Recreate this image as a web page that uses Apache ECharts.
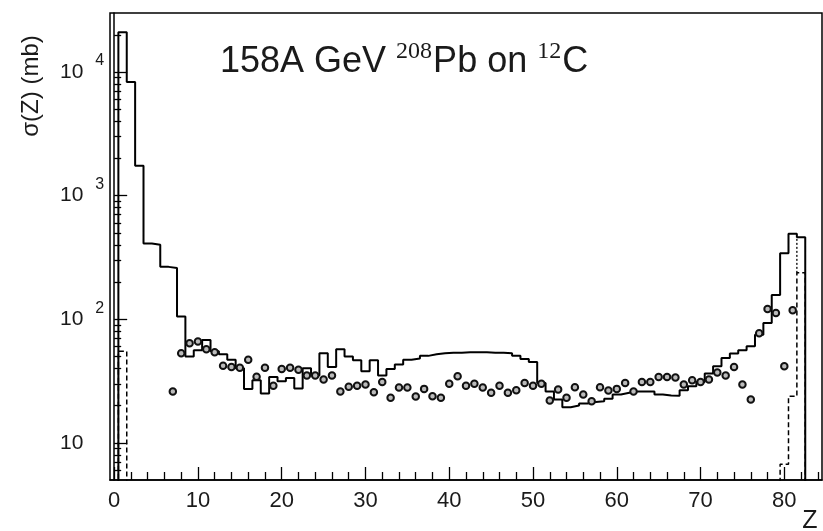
<!DOCTYPE html>
<html>
<head>
<meta charset="utf-8">
<script src="https://cdn.jsdelivr.net/npm/echarts@6/dist/echarts.min.js"></script>
<style>
html,body{margin:0;padding:0;background:#fff;}
#chart{width:823px;height:531px;}
</style>
</head>
<body>
<div id="chart"></div>
<script>
// ---- Data ----
// Solid histogram: sigma(Z) in mb, index = Z (null = empty bin)
const solidValues = [
  null, 21000, 8300, 1740, 410, 400, 265, 260, 105, 50,
  56, 68, 55, 52, 47, 40, 27.3, 32, 25, 34,
  31.5, 33.5, 27.5, 40, 35, 53, 41, 57, 50, 46.5,
  38, 46.5, 35, 39.6, 43, 47, 48, 50.5, 52, 53,
  53.5, 53.5, 54, 54, 54, 53.5, 53.5, 53, 50.7, 47.7,
  45, 30.5, 26, 22.4, 19.4, 20, 20.8, 21.4, 21.7, 22.7,
  24.6, 25.4, 26, 26, 26, 24.6, 24.1, 24, 26.6, 28.7,
  31, 36.3, 41.6, 48.6, 52.7, 56, 60.3, 75, 93, 157,
  342, 490, 460, null
];
// Dashed histogram bins
const dashedZ = [1, 80, 81, 82];
const dashedValues = [55, 6.7, 23.8, 237];
// Dotted segment
const dottedZ = [81.5, 81.5];
const dottedValues = [237, 470];
// Data points
const pointZ = [7, 8, 9, 10, 11, 12, 13, 14, 15, 16, 17, 18, 19, 20, 21, 22, 23, 24, 25, 26,
  27, 28, 29, 30, 31, 32, 33, 34, 35, 36, 37, 38, 39, 40, 41, 42, 43, 44, 45, 46,
  47, 48, 49, 50, 51, 52, 53, 54, 55, 56, 57, 58, 59, 60, 61, 62, 63, 64, 65, 66,
  67, 68, 69, 70, 71, 72, 73, 74, 75, 76, 77, 78, 79, 80, 81];
const pointValues = [26, 53, 64, 66, 57, 54, 42, 41, 40.4, 47, 34.2, 40.4, 29, 39.6, 40.4, 39, 35, 35, 32.5, 35,
  26, 28.4, 29, 29.6, 25.6, 31, 23.1, 28, 28, 23.7, 27.3, 23.8, 23.1, 30, 34.5, 29, 30, 28, 25.4, 29,
  25.4, 26.6, 30.5, 29, 30, 22, 27, 23.1, 28.2, 24.6, 21.7, 28.2, 26.5, 27.3, 30.5, 26, 31, 31, 34, 34,
  33.7, 29.6, 32, 31, 32.5, 37, 35, 41, 29.6, 22.4, 77, 121, 112, 41.6, 118];

// Tick labels / tick positions
const xMajorTicks = [0, 10, 20, 30, 40, 50, 60, 70, 80];
const xMinorTicks = [2, 4, 6, 8, 12, 14, 16, 18, 22, 24, 26, 28, 32, 34, 36, 38, 42, 44, 46, 48,
  52, 54, 56, 58, 62, 64, 66, 68, 72, 74, 76, 78, 82, 84];
const yMajorTicks = [10, 100, 1000, 10000];
const yMinorTicks = [6, 7, 8, 9, 20, 30, 40, 50, 60, 70, 80, 90, 200, 300, 400, 500, 600, 700, 800, 900,
  2000, 3000, 4000, 5000, 6000, 7000, 8000, 9000, 20000];

// ---- Build step paths from bins ----
const FLOOR = 1; // below axis minimum -> clipped away
function histPath(values) {
  const pts = [];
  for (let z = 0; z < values.length; z++) {
    const v = values[z] == null ? FLOOR : values[z];
    pts.push([z - 0.5, v], [z + 0.5, v]);
  }
  return pts;
}
const dashedBins = solidValues.map(() => null);
dashedZ.forEach((z, i) => { dashedBins[z] = dashedValues[i]; });

const FONT = "'Liberation Sans', Arial, Helvetica, sans-serif";
const SERIF = "'Liberation Serif', 'Times New Roman', serif";
const chart = echarts.init(document.getElementById('chart'), null, {renderer: 'canvas'});
chart.setOption({
  animation: false,
  backgroundColor: '#fff',
  textStyle: {fontFamily: FONT},
  title: {
    text: '{a|158A GeV }{s|208}{a|Pb on }{s|12}{a|C}',
    left: 215,
    top: 35,
    textStyle: {
      fontWeight: 'normal',
      rich: {
        a: {fontSize: 36, fontFamily: FONT, fontWeight: 'normal', color: '#1a1a1a'},
        s: {fontSize: 24, fontFamily: SERIF, fontWeight: 'normal', color: '#1a1a1a', padding: [0, 1, 20, 0]}
      }
    }
  },
  grid: {left: 110, right: 1, top: 13, bottom: 51, show: true, borderColor: '#000', borderWidth: 1.5, backgroundColor: 'transparent'},
  xAxis: [
    {
      type: 'value', min: -0.5, max: 84.5, position: 'bottom',
      axisLine: {show: true, onZero: false, lineStyle: {color: '#000', width: 1.5}},
      axisTick: {show: true, inside: true, length: 13, customValues: xMajorTicks, lineStyle: {color: '#000', width: 1.3}},
      axisLabel: {customValues: xMajorTicks, fontSize: 22, color: '#1a1a1a', margin: 10, fontFamily: FONT},
      splitLine: {show: false}
    },
    {
      type: 'value', min: -0.5, max: 84.5, position: 'bottom',
      axisLine: {show: false},
      axisTick: {show: true, inside: true, length: 8, customValues: xMinorTicks, lineStyle: {color: '#000', width: 1.3}},
      axisLabel: {show: false},
      splitLine: {show: false}
    }
  ],
  yAxis: [
    {
      type: 'log', logBase: 10, min: 5, max: 30000, position: 'left',
      axisLine: {show: true, lineStyle: {color: '#000', width: 1.5}},
      axisTick: {show: true, inside: true, length: 13, customValues: yMajorTicks, lineStyle: {color: '#000', width: 1.3}},
      axisLabel: {
        customValues: yMajorTicks, align: 'left', margin: 50, color: '#1a1a1a',
        formatter: function (v) {
          const e = Math.round(Math.log10(v));
          return e === 1 ? '{b|10}' : '{b|10}{s|' + e + '}';
        },
        rich: {
          b: {fontSize: 21, fontFamily: FONT, color: '#1a1a1a'},
          s: {fontSize: 16, fontFamily: FONT, color: '#1a1a1a', padding: [0, 0, 22, 12]}
        }
      },
      splitLine: {show: false}
    },
    {
      type: 'log', logBase: 10, min: 5, max: 30000, position: 'left',
      axisLine: {show: false},
      axisTick: {show: true, inside: true, length: 7, customValues: yMinorTicks, lineStyle: {color: '#000', width: 1.3}},
      axisLabel: {show: false},
      splitLine: {show: false}
    }
  ],
  graphic: [
    {type: 'text', x: 31, y: 86, rotation: Math.PI / 2,
      style: {text: 'σ(Z) (mb)', font: '24px ' + FONT, fill: '#1a1a1a', align: 'center', verticalAlign: 'middle'}},
    {type: 'text', x: 810, y: 521,
      style: {text: 'Z', font: '25px ' + FONT, fill: '#1a1a1a', align: 'center', verticalAlign: 'middle'}}
  ],
  series: [
    {
      name: 'dashed', type: 'line', xAxisIndex: 0, yAxisIndex: 0, data: histPath(dashedBins),
      showSymbol: false, symbol: 'none', clip: true, z: 2,
      lineStyle: {color: '#000', width: 1.5, type: [5, 3]}
    },
    {
      name: 'dotted', type: 'line', xAxisIndex: 0, yAxisIndex: 0,
      data: dottedZ.map((z, i) => [z, dottedValues[i]]),
      showSymbol: false, symbol: 'none', clip: true, z: 2,
      lineStyle: {color: '#000', width: 1.3, type: [2, 2]}
    },
    {
      name: 'solid', type: 'line', xAxisIndex: 0, yAxisIndex: 0, data: histPath(solidValues),
      showSymbol: false, symbol: 'none', clip: true, z: 3,
      lineStyle: {color: '#000', width: 2}
    },
    {
      name: 'points', type: 'scatter', xAxisIndex: 0, yAxisIndex: 0,
      data: pointZ.map((z, i) => [z, pointValues[i]]),
      symbol: 'circle', symbolSize: 6.5, z: 4,
      itemStyle: {color: '#bbb', borderColor: '#111', borderWidth: 2, opacity: 1}
    }
  ]
});
</script>
</body>
</html>
